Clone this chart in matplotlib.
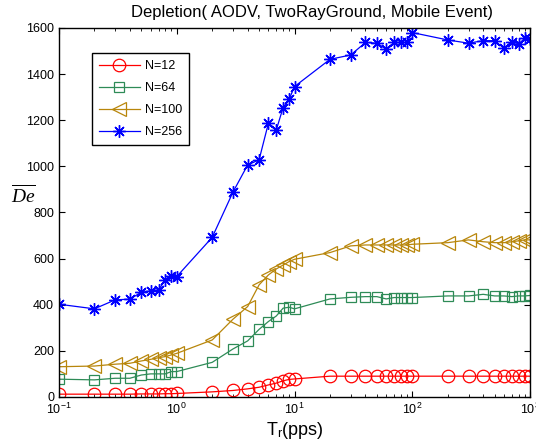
import numpy as np
import matplotlib.pyplot as plt

plt.rcParams['font.family'] = ['Liberation Sans', 'DejaVu Sans']
plt.rcParams['mathtext.fontset'] = 'custom'
plt.rcParams['mathtext.rm'] = 'Liberation Sans'
plt.rcParams['mathtext.it'] = 'Liberation Serif:italic'

# rates T_r (pps)
tr = [0.1, 0.2, 0.3, 0.4, 0.5, 0.6, 0.7, 0.8, 0.9, 1,
      2, 3, 4, 5, 6, 7, 8, 9, 10,
      20, 30, 40, 50, 60, 70, 80, 90, 100,
      200, 300, 400, 500, 600, 700, 800, 900, 1000]

n12 = [12, 12, 12, 12, 13, 13, 13, 14, 14, 15,
       22, 28, 35, 42, 52, 60, 70, 76, 78,
       90, 90, 90, 90, 90, 90, 90, 90, 90,
       90, 90, 90, 90, 90, 90, 90, 90, 90]
n64 = [77, 74, 81, 81, 95, 100, 100, 100, 110, 110,
       150, 208, 243, 293, 327, 351, 385, 389, 382,
       425, 432, 435, 435, 425, 431, 431, 431, 431,
       438, 438, 445, 438, 438, 435, 438, 438, 440]
n100 = [131, 134, 142, 146, 156, 163, 170, 175, 182, 189,
        247, 337, 392, 486, 529, 555, 572, 587, 597,
        626, 655, 659, 659, 659, 659, 659, 659, 662,
        669, 681, 673, 669, 669, 673, 677, 681, 681]
n256 = [402, 382, 421, 424, 454, 460, 464, 507, 525, 522,
        692, 888, 1006, 1028, 1187, 1158, 1255, 1291, 1346,
        1464, 1483, 1537, 1534, 1508, 1537, 1537, 1537, 1580,
        1548, 1534, 1545, 1545, 1512, 1541, 1531, 1555, 1551]

fig = plt.figure(figsize=(5.36, 4.44), dpi=100)
ax = fig.add_axes([0.110, 0.106, 0.879, 0.831])

ax.plot(tr, n12, '-o', color='#ff0000', mfc='none', ms=9, lw=0.9, mew=0.9, label='N=12')
ax.plot(tr, n64, '-s', color='#2e8b57', mfc='none', ms=7.5, lw=0.9, mew=0.9, label='N=64')
ax.plot(tr, n100, '-<', color='#b8860b', mfc='none', ms=10, lw=0.9, mew=0.9, label='N=100')
ax.plot(tr, n256, '-', marker=(8, 2, 0), color='#0000ff', ms=9, lw=0.9, mew=1.0, label='N=256')

ax.set_xscale('log')
ax.set_xlim(0.1, 1000)
ax.set_ylim(0, 1600)
ax.set_yticks(range(0, 1601, 200))
ax.tick_params(which='both', direction='in', top=True, right=True, labelsize=9)
ax.tick_params(which='major', length=4)
ax.tick_params(which='minor', length=2.5)
for s in ax.spines.values():
    s.set_linewidth(1.0)

fig.text(0.582, 0.972, 'Depletion( AODV, TwoRayGround, Mobile Event)', ha='center', va='center', fontsize=12)
ax.set_xlabel(r'T$_\mathrm{r}$(pps)', fontsize=13, labelpad=2)
ax.set_ylabel(r'$\overline{De}$', fontsize=14, rotation=0)
ax.yaxis.set_label_coords(-0.075, 0.515)

leg = ax.legend(loc='upper left', bbox_to_anchor=(0.07, 0.932), borderaxespad=0, numpoints=1,
                fancybox=False, edgecolor='black', framealpha=1, fontsize=9, handlelength=3.3,
                handletextpad=0.4, borderpad=0.55, labelspacing=0.8)
leg.get_frame().set_linewidth(1.0)

fig.savefig('out.png', dpi=100)
